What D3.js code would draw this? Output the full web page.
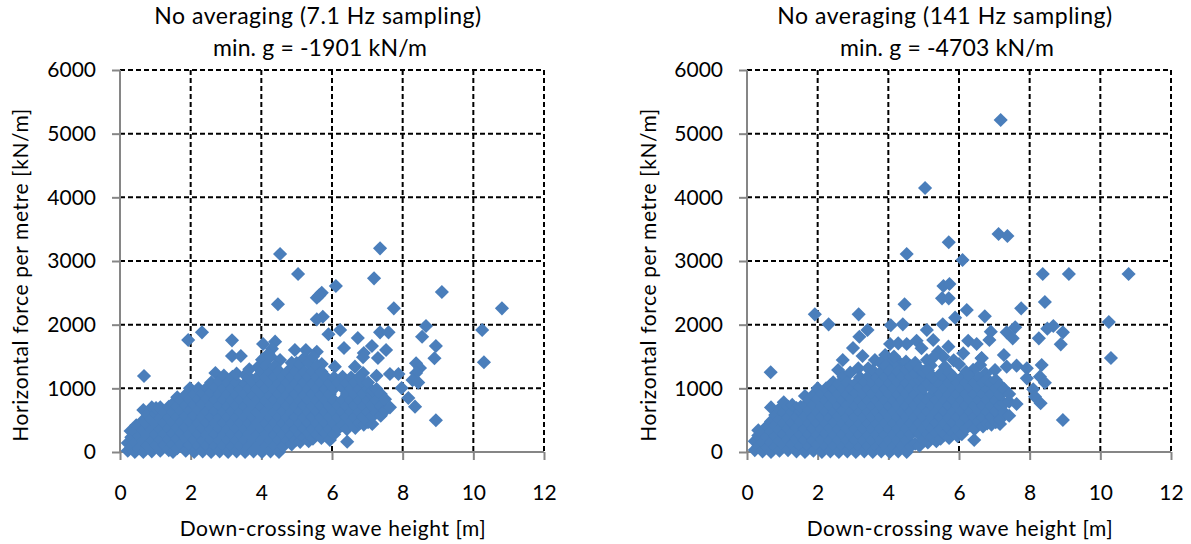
<!DOCTYPE html>
<html>
<head>
<meta charset="utf-8">
<script src="https://cdn.jsdelivr.net/npm/d3@7"></script>
<style>
    body { margin: 0; background: #fff; }
    svg { display: block; }
    text { font-family: Lato, "Open Sans", sans-serif; fill: #000; }
    .tick-label { font-size: 21px; }
    .chart-title { font-size: 23px; text-anchor: middle; }
    .axis-title { font-size: 21px; text-anchor: middle; letter-spacing: 0.6px; }
</style>
</head>
<body>
<div id="chart"></div>
<script>
const xTicks = [0, 2, 4, 6, 8, 10, 12];
const yTicks = [0, 1000, 2000, 3000, 4000, 5000, 6000];

const titlesSlow = ["No averaging (7.1 Hz sampling)", "min. g = -1901 kN/m"];
const titlesFast = ["No averaging (141 Hz sampling)", "min. g = -4703 kN/m"];
const xLabel = "Down-crossing wave height [m]";
const yLabel = "Horizontal force per metre [kN/m]";

// 7.1 Hz: the separate points, [wave height, force]
const outliersSlow = [
    [0.68,1194],[1.93,1759],[2.32,1880],[3.17,1754],[3.17,1508],[3.42,1508],[4.53,3110],[5.04,2796],
    [4.47,2320],[6.11,2607],[5.71,2502],[5.64,2460],[5.57,2423],[5.74,2125],[5.57,2084],[5.9,1849],
    [6.23,1916],[6.73,1790],[6.34,1633],[7.36,3199],[7.19,2728],[7.75,2257],[7.36,1880],[7.6,1880],
    [7.13,1665],[6.9,1555],[6.88,1490],[7.53,1602],[7.3,1476],[7.64,1225],[7.26,1198],[9.11,2513],
    [10.81,2257],[10.25,1916],[10.3,1409],[8.94,498],[8.66,1979],[8.55,1811],[8.94,1665],[8.9,1472],
    [8.38,1393],[8.49,1319],[8.38,1240],[8.28,1130],[8.44,1090],[8.35,712],[8.16,848],[7.97,1005],
    [7.88,1225],[6.43,161],[4.05,1696],[4.39,1733],[4.3,1620],[4.2,1540],[4.53,1445],[4.95,1602],
    [5.26,1602],[5.57,1575],[5.71,1382],[5.0,1398],[6.08,1340],[6.65,1340],[6.88,1240],[0.3,330],[0.46,420]
];
// 7.1 Hz: the dense cloud, read column by column
const cloudHeightsSlow = [
    0.22,0.32,0.42,0.54,0.66,0.78,0.9,1.02,1.14,1.26,1.38,1.5,1.62,1.74,1.86,1.98,2.1,2.22,2.34,2.46,
    2.58,2.7,2.82,2.94,3.06,3.18,3.3,3.42,3.54,3.66,3.78,3.9,4.02,4.14,4.26,4.38,4.5,4.62,4.74,4.86,
    4.98,5.1,5.22,5.34,5.46,5.58,5.7,5.82,5.94,6.06,6.18,6.3,6.42,6.54,6.66,6.78,6.9,7.02,7.14,7.26,
    7.38,7.5,7.64
];
const cloudForcesSlow = [
    [20,140],[70,230],[0,150,320],[60,240,410],[0,170,340,500,660],[90,260,430,600],[10,180,350,520,700],
    [100,270,440,610,690],[20,190,360,530,700],[110,280,450,620],[30,200,370,540,710],[0,120,290,460,630,760],
    [60,210,380,550,720,860],[130,300,470,640,810],[20,220,390,560,730,900],[110,280,480,650,820,1000],
    [0,190,370,570,740,910],[90,280,460,660,830,1000],[10,180,370,550,750,920],[100,270,460,640,840,1010],
    [0,190,360,550,730,930,1090],[90,280,450,640,820,1020,1240],[10,180,370,540,730,910,1110],
    [100,270,460,630,820,1000,1200],[0,190,360,550,720,910,1090],[90,280,450,640,810,1000,1180],
    [10,180,370,540,730,900,1090,1230],[100,270,460,630,820,990],[0,190,360,550,720,910,1080,1210],
    [90,280,450,640,810,1000,1170,1300],[10,180,370,540,730,900,1090],[100,270,460,630,820,990,1180,1330],
    [0,190,360,550,720,910,1080,1270,1450],[90,280,450,640,810,1000,1170,1360],
    [10,180,370,540,730,900,1090,1260,1500],[100,270,460,630,820,990,1180,1350],
    [0,190,360,550,720,910,1080,1270],[90,280,450,640,810,1000,1170],[180,370,540,730,900,1090,1260],
    [120,270,460,630,820,990,1180,1400],[190,360,550,720,910,1080,1270],[160,280,450,640,810,1000,1170,1380],
    [240,370,540,730,900,1090,1260,1480],[170,300,460,630,820,990,1180,1400],[210,360,550,720,910,1080,1270,1500],
    [280,450,640,810,1000,1170,1360],[220,370,540,730,900,1090,1260],[300,460,630,820,990,1180],
    [190,360,550,720,910,1080],[280,450,640,810,1000,1170],[370,540,730,1090],
    [420,630,820,1010,1180],[360,550,720,910,1080],[470,640,810,1000,1170],[380,540,730,900,1090],
    [450,630,820,990,1180],[430,550,720,910,1080],[470,640,810,1000,1090],[440,560,730,900,960],
    [620,820,990],[570,720,910],[650,830],[702]
];

// 141 Hz: the separate points
const outliersFast = [
    [0.67,1252],[1.92,2162],[2.31,2005],[3.16,2162],[3.0,1633],[3.27,1508],[2.71,1445],[3.41,1916],
    [3.18,1811],[4.52,3110],[4.46,2320],[4.07,1990],[4.41,2005],[5.71,3294],[6.1,3015],[7.12,3424],
    [7.37,3392],[5.56,2607],[5.73,2639],[5.52,2414],[5.71,2414],[6.22,2230],[6.73,2131],[5.89,2110],
    [5.54,2005],[7.76,2257],[5.09,1916],[7.59,1958],[7.35,1880],[7.52,1785],[6.9,1890],[6.86,1759],
    [7.27,1523],[7.18,5215],[5.04,4146],[8.37,2796],[9.11,2796],[10.8,2796],[8.43,2356],[10.24,2042],
    [10.3,1476],[8.94,503],[8.67,1979],[8.5,1937],[8.94,1880],[8.26,1785],[8.88,1691],[8.34,1366],
    [7.92,1314],[7.63,1356],[7.35,1340],[7.02,1288],[6.64,1476],[6.6,1366],[8.29,1183],[8.43,1088],
    [8.1,985],[7.92,1157],[8.15,869],[8.31,765],[6.43,188],[2.44,1095],[2.58,1288],[2.73,1183],
    [2.92,1246],[3.15,1314],[3.62,1445],[3.43,1314],[3.91,1523],[4.05,1696],[4.28,1707],[4.52,1696],
    [4.8,1748],[4.94,1629],[5.27,1759],[5.7,1654],[5.41,1575],[6.26,1748],[6.5,1696],[6.12,1550],
    [6.64,1472],[4.33,1393],[5.09,1445],[5.56,1497],[4.1,1420],[4.22,1330],[3.78,1400],[5.3,1500],
    [5.2,1360],[5.85,1440],[5.6,1340],[6.0,1380],[4.5,1420],[4.9,1290],[6.4,1290],[6.75,1230]
];
const cloudHeightsFast = [
    0.22,0.32,0.44,0.56,0.68,0.8,0.92,1.04,1.16,1.28,1.4,1.52,1.64,1.76,1.88,2.0,2.12,2.24,2.36,2.48,
    2.6,2.72,2.84,2.96,3.08,3.2,3.32,3.44,3.56,3.68,3.8,3.92,4.04,4.16,4.28,4.4,4.52,4.64,4.76,4.88,
    5.0,5.12,5.24,5.36,5.48,5.6,5.72,5.84,5.96,6.08,6.2,6.32,6.44,6.56,6.68,6.8,6.92,7.04,7.16,7.28,
    7.42,7.63
];
const cloudForcesFast = [
    [30,170],[90,260,340],[10,160,300],[70,240,400],[0,150,320,480,700],[80,250,420,580],[20,170,340,510,680],
    [110,280,450,620,780],[30,200,370,540,710],[120,290,460,630,740],[10,210,380,550,690],[100,270,470,640,710],
    [0,190,360,560,730,880],[90,280,450,650,820],[20,180,370,540,740,900],[110,270,460,630,830,1000],
    [0,200,360,550,720,920],[90,290,450,640,810,1000],[10,180,380,540,730,900,1050],[100,270,470,630,820,990],
    [0,190,360,560,720,910,1070],[90,280,450,650,810,1000],[10,180,370,540,740,900,1090],
    [100,270,460,630,830,990],[0,190,360,550,720,920,1080],[90,280,450,640,810,1010,1170],
    [10,180,370,540,730,900,1100],[100,270,460,630,820,990,1190],[0,190,360,550,720,910,1080,1280],
    [90,280,450,640,810,1000,1170],[10,180,370,540,730,900,1090,1260],[100,270,460,630,820,990,1180,1350],
    [0,190,360,550,720,910,1080,1270],[90,280,450,640,810,1000,1170,1500],[10,180,370,540,730,900,1090,1260],
    [100,270,460,630,820,990,1180],[0,190,360,550,720,910,1080,1290],[90,280,450,640,810,1000,1180,1340],
    [130,370,540,730,900,1090,1230,1400],[100,280,460,630,820,1000,1130,1300],[190,360,550,720,880,1000,1160,1260],
    [150,280,450,640,810,1080,1280],[240,370,540,730,900,1000,1190],[170,300,460,630,820,990,1120],
    [210,360,550,720,910,1080,1230],[280,450,640,810,1000,1170],[220,370,540,730,900,1090,1250],
    [300,460,630,820,990,1180],[250,360,550,720,910,1080],[280,450,640,810,1000,1170],
    [370,540,730,900,1090,1260],[420,630,820,1010,1180],[360,550,720,910,1080],[470,640,810,1000,1170],
    [400,540,730,900,1090],[450,630,820,990,1140],[430,550,720,910,1080],[470,640,810,1000,1130],
    [440,510,730,900,1050],[620,760,990],[570,790,910],[754]
];

class ScatterPanel {
    constructor(svg, left, titles, outliers, cloudHeights, cloudForces) {
        this.svg = svg;
        this.left = left;
        this.titles = titles;
        this.points = outliers.slice();
        cloudHeights.forEach((h, i) => {
            cloudForces[i].forEach(f => this.points.push([h, f]));
        });
        this.initVis();
    }

    initVis() {
        let vis = this;
        vis.width = 424;
        vis.top = 70;
        vis.bottom = 452;

        vis.g = vis.svg.append("g").attr("transform", "translate(" + vis.left + ",0)");

        vis.x = d3.scaleLinear().domain([0, 12]).range([0, vis.width]);
        vis.y = d3.scaleLinear().domain([0, 6000]).range([vis.bottom, vis.top]);

        // Gridlines
        vis.g.selectAll(".grid-x").data(xTicks.slice(1)).enter().append("line")
            .attr("x1", d => vis.x(d)).attr("x2", d => vis.x(d))
            .attr("y1", vis.top).attr("y2", vis.bottom)
            .attr("stroke", "#000").attr("stroke-width", 2).attr("stroke-dasharray", "5 3");
        vis.g.selectAll(".grid-y").data(yTicks.slice(1)).enter().append("line")
            .attr("x1", 0).attr("x2", vis.width)
            .attr("y1", d => vis.y(d)).attr("y2", d => vis.y(d))
            .attr("stroke", "#000").attr("stroke-width", 2).attr("stroke-dasharray", "5 3");

        // Axes
        vis.xAxis = d3.axisBottom(vis.x).tickValues(xTicks).tickFormat(d3.format("d")).tickSize(8).tickPadding(25);
        vis.yAxis = d3.axisLeft(vis.y).tickValues(yTicks).tickFormat(d3.format("d")).tickSize(8).tickPadding(16);

        vis.g.append("g").attr("class", "x-axis")
            .attr("transform", "translate(0," + vis.bottom + ")").call(vis.xAxis);
        vis.g.append("g").attr("class", "y-axis").call(vis.yAxis);

        vis.g.selectAll(".x-axis line, .y-axis line")
            .attr("stroke", "#868686").attr("stroke-width", 2);
        vis.g.selectAll(".x-axis text, .y-axis text")
            .attr("class", "tick-label").attr("fill", "#000");
        vis.g.selectAll(".x-axis .domain, .y-axis .domain").attr("d", null);
        vis.g.select(".x-axis").append("line").attr("x1", 0).attr("x2", vis.width)
            .attr("stroke", "#868686").attr("stroke-width", 2);
        vis.g.select(".y-axis").append("line")
            .attr("y1", vis.top).attr("y2", vis.bottom)
            .attr("stroke", "#868686").attr("stroke-width", 2);

        // Points
        let diamond = d3.symbol().type(d3.symbolSquare).size(100);
        vis.g.selectAll(".point").data(vis.points).enter().append("path")
            .attr("class", "point")
            .attr("d", diamond)
            .attr("fill", "#4a7ebb")
            .attr("transform", d => "translate(" + vis.x(d[0]) + "," + vis.y(d[1]) + ") rotate(45)");

        // Titles
        vis.g.selectAll(".chart-title").data(vis.titles).enter().append("text")
            .attr("class", "chart-title")
            .attr("x", (d, i) => i === 0 ? 198 : 200)
            .attr("y", (d, i) => 24 + i * 32)
            .style("letter-spacing", (d, i) => i === 0 ? "0.53px" : "0.15px")
            .text(d => d);

        vis.g.append("text").attr("class", "axis-title")
            .attr("x", 213).attr("y", 536).text(xLabel);

        vis.g.append("text").attr("class", "axis-title")
            .attr("transform", "translate(" + (vis.left === 120 ? -92 : -91) + ",275) rotate(-90)").text(yLabel);
    }
}

const svg = d3.select("#chart").append("svg").attr("width", 1191).attr("height", 544);
new ScatterPanel(svg, 120, titlesSlow, outliersSlow, cloudHeightsSlow, cloudForcesSlow);
new ScatterPanel(svg, 747, titlesFast, outliersFast, cloudHeightsFast, cloudForcesFast);
</script>
</body>
</html>
